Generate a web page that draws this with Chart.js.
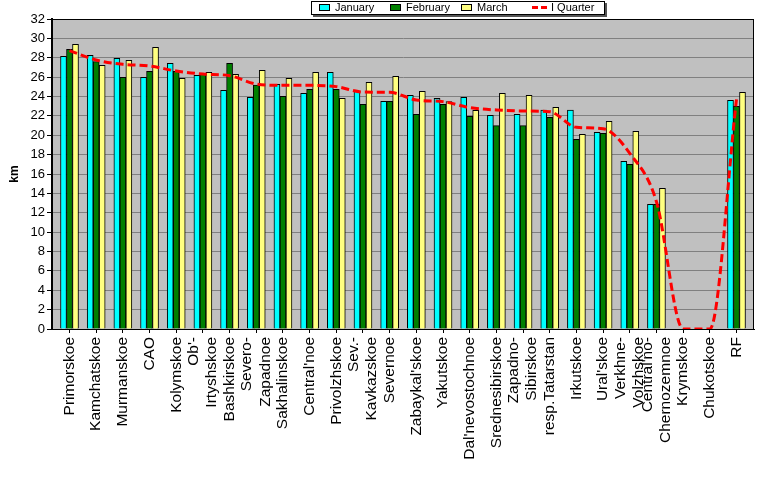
<!DOCTYPE html>
<html lang="en">
<head>
<meta charset="UTF-8" />
<title>km by region</title>
<script src="https://cdn.jsdelivr.net/npm/chart.js"></script>
<style>
  body { margin: 0; background: #fff; }
  canvas { display: block; }
</style>
</head>
<body>
<canvas id="kmChart" width="777" height="479"></canvas>
<script>
// two-line names are split the same way as on the original axis
const regions = ["Primorskoe", "Kamchatskoe", "Murmanskoe", "CAO", "Kolymskoe", ["Ob'-", "Irtyshskoe"],
    "Bashkirskoe", ["Severo-", "Zapadnoe"], "Sakhalinskoe", "Central'noe", "Privolzhskoe", ["Sev.-", "Kavkazskoe"],
    "Severnoe", "Zabaykal'skoe", "Yakutskoe", "Dal'nevostochnoe", "Srednesibirskoe", ["Zapadno-", "Sibirskoe"],
    "resp.Tatarstan", "Irkutskoe", "Ural'skoe", ["Verkhne-", "Volzhskoe"], ["Central'no-", "Chernozemnoe"],
    "Krymskoe", "Chukotskoe", "RF"];

const january  = [28.15, 28.25, 27.94, 25.98, 27.42, 26.18, 24.64, 23.91, 25.26, 24.33, 26.5, 24.53, 23.5,
                  24.12, 23.81, 23.91, 22.06, 22.16, 22.61, 22.61, 20.3, 17.31, 12.87, null, null, 23.6];
const february = [28.87, 27.6, 25.98, 26.6, 26.6, 26.32, 27.42, 25.19, 24.02, 24.74, 24.74, 23.19, 23.5,
                  22.16, 23.19, 21.95, 21.0, 21.0, 21.85, 19.58, 20.2, 17.0, 12.87, null, null, 22.99];
const march    = [29.39, 27.22, 27.73, 29.08, 25.88, 26.5, 26.29, 26.7, 25.88, 26.5, 23.81, 25.46, 26.08,
                  24.53, 23.47, 22.57, 24.33, 24.12, 22.88, 20.1, 21.44, 20.4, 14.52, null, null, 24.43];
const quarter  = [28.73, 27.77, 27.32, 27.15, 26.63, 26.32, 26.15, 25.29, 25.15, 25.15, 25.02, 24.46, 24.43,
                  23.64, 23.47, 22.85, 22.61, 22.5, 22.43, 20.82, 20.68, 18.13, 13.14, 0, 0, 23.71];

const seriesNames = ["January", "February", "March", "I Quarter"];
const yMax = 32, yStep = 2;

const toPoints = arr => arr.map((v, i) => ({ x: i + 1, y: v }));

// x axis is linear so the plot keeps the wide side margins of the original
const lineShift = 0.34;
function buildXTicks(scale) {
    const ticks = [];
    regions.forEach((name, i) => {
        const pos = i + 1;
        if (Array.isArray(name)) {
            ticks.push({ value: pos - lineShift, text: name[0], mark: false });
            ticks.push({ value: pos, text: "", mark: true });
            ticks.push({ value: pos + lineShift, text: name[1], mark: false });
        } else {
            ticks.push({ value: pos, text: name, mark: true });
        }
    });
    scale.ticks = ticks;
}

const plotFrame = {
    id: "plotFrame",
    beforeDraw(chart) {
        const a = chart.chartArea, ctx = chart.ctx;
        ctx.save();
        ctx.fillStyle = "#c0c0c0";
        ctx.fillRect(a.left, a.top, a.right - a.left, a.bottom - a.top);
        ctx.restore();
    },
    afterDraw(chart) {
        const a = chart.chartArea, ctx = chart.ctx;
        ctx.save();
        ctx.strokeStyle = "#000";
        ctx.lineWidth = 1;
        ctx.strokeRect(a.left + 0.5, a.top + 0.5, a.right - a.left - 1, a.bottom - a.top);

        // legend box, same look as the original
        const lx = 311, ly = 1, lw = 293, lh = 13;
        ctx.fillStyle = "#555";
        ctx.fillRect(lx + 2, ly + 2, lw + 1, lh + 1);
        ctx.fillStyle = "#fff";
        ctx.fillRect(lx, ly, lw, lh);
        ctx.strokeRect(lx + 0.5, ly + 0.5, lw, lh);
        ctx.font = "11px 'Liberation Sans', Arial, sans-serif";
        ctx.textBaseline = "alphabetic";
        chart.data.datasets.forEach((ds, i) => {
            const x = 319 + i * 71;
            if (ds.type === "line") {
                ctx.save();
                ctx.strokeStyle = ds.borderColor;
                ctx.lineWidth = 3;
                ctx.setLineDash([6, 3]);
                ctx.beginPath();
                ctx.moveTo(x, 7.5);
                ctx.lineTo(x + 17, 7.5);
                ctx.stroke();
                ctx.restore();
                ctx.fillStyle = "#000";
                ctx.fillText(ds.label, x + 19, 11);
            } else {
                ctx.fillStyle = ds.backgroundColor;
                ctx.fillRect(x, 4, 11, 7);
                ctx.strokeRect(x + 0.5, 4.5, 10, 6);
                ctx.fillStyle = "#000";
                ctx.fillText(ds.label, x + 16, 11);
            }
        });
        ctx.restore();
    }
};

Chart.defaults.font.family = "'Liberation Sans', Arial, sans-serif";
Chart.defaults.color = "#000";

const barStyle = { borderColor: "#000", borderWidth: 1, barThickness: 6, order: 1 };

new Chart(document.getElementById("kmChart"), {
    type: "bar",
    data: {
        datasets: [
            { label: seriesNames[0], data: toPoints(january), backgroundColor: "#00ffff", ...barStyle },
            { label: seriesNames[1], data: toPoints(february), backgroundColor: "#008000", ...barStyle },
            { label: seriesNames[2], data: toPoints(march), backgroundColor: "#ffff80", ...barStyle },
            {
                type: "line",
                label: seriesNames[3],
                data: toPoints(quarter),
                borderColor: "#ff0000",
                borderWidth: 3,
                borderDash: [8, 4],
                pointRadius: 0,
                cubicInterpolationMode: "monotone",
                clip: 0,
                order: 0
            }
        ]
    },
    options: {
        responsive: false,
        devicePixelRatio: 1,
        animation: false,
        layout: { padding: { top: 19, right: 23, left: 0, bottom: 0 } },
        plugins: { legend: { display: false }, tooltip: { enabled: false } },
        scales: {
            x: {
                type: "linear",
                min: 0.344,
                max: 26.656,
                offset: false,
                afterBuildTicks: buildXTicks,
                afterFit: s => { s.height = 150; },
                grid: {
                    offset: false,
                    drawOnChartArea: false,
                    tickLength: 4,
                    tickColor: ctx => (ctx.tick && ctx.tick.mark) ? "#000" : "rgba(0,0,0,0)"
                },
                border: { color: "#000", width: 1 },
                ticks: {
                    autoSkip: false,
                    minRotation: 90,
                    maxRotation: 90,
                    padding: 4,
                    font: { size: 15.5 },
                    callback: (v, i, ticks) => ticks[i].text
                }
            },
            y: {
                min: 0,
                max: yMax,
                afterFit: s => { s.width = 52; },
                grid: { color: "#808080", tickColor: "#000", tickLength: 5 },
                border: { color: "#000", width: 2 },
                ticks: { stepSize: yStep, padding: 2, font: { size: 13 } },
                title: { display: true, text: "km", font: { size: 12, weight: "bold" }, padding: { top: 7, bottom: 0 } }
            }
        }
    },
    plugins: [plotFrame]
});
</script>
</body>
</html>
